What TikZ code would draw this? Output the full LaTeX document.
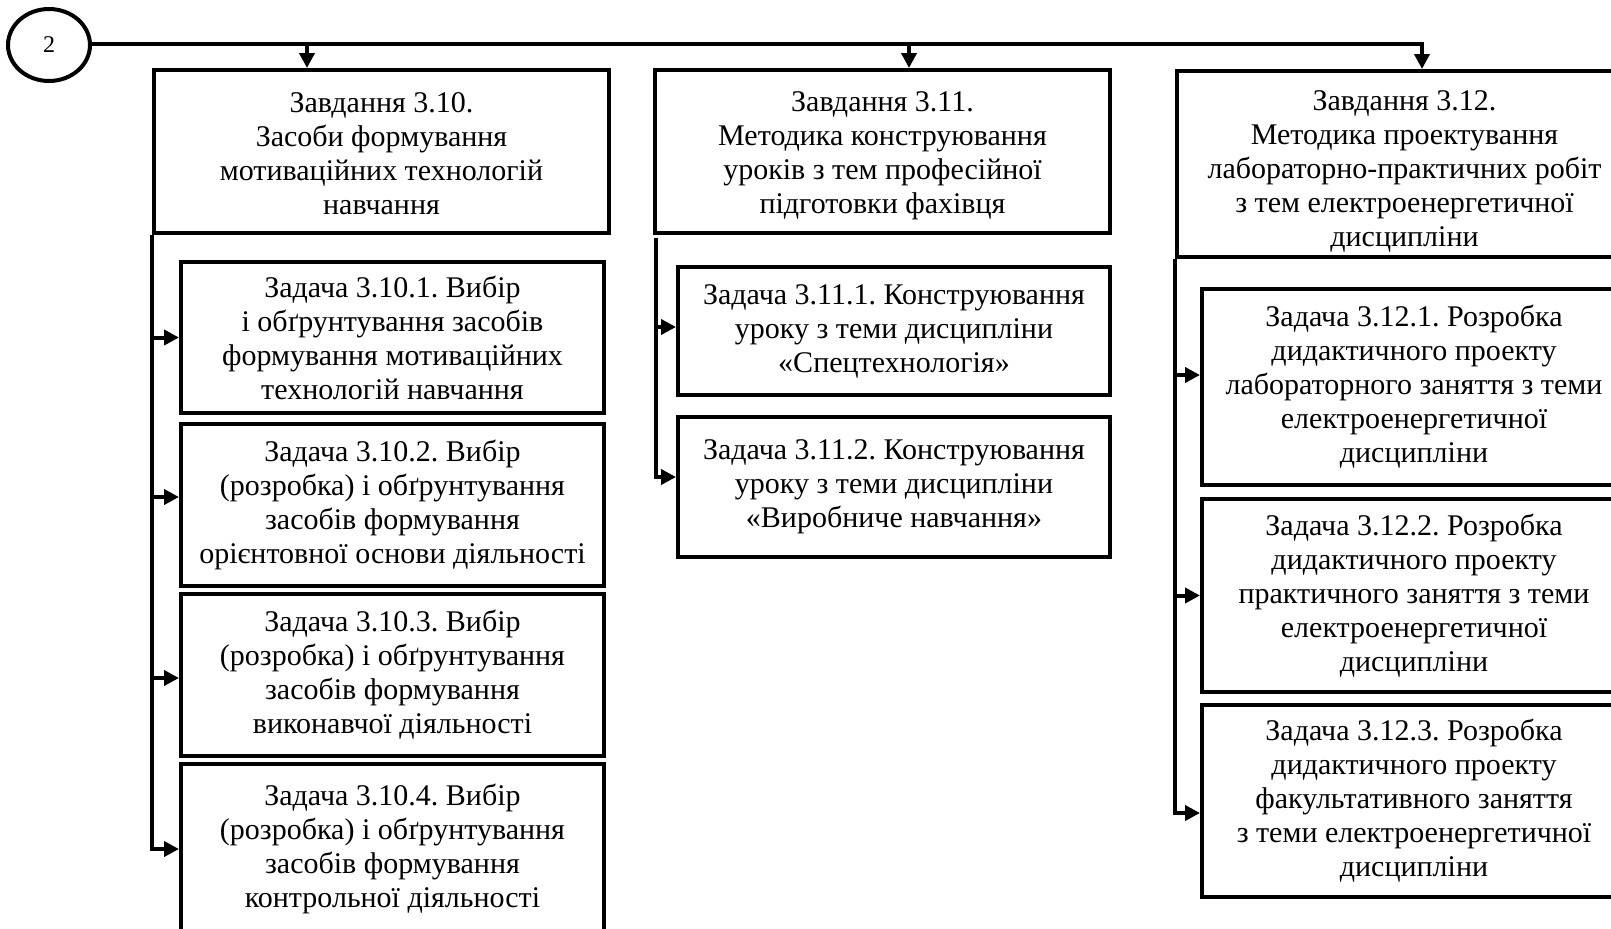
\documentclass[tikz,border=0pt]{standalone}
\usepackage{fontspec}
\setmainfont{Liberation Serif}
\usetikzlibrary{arrows.meta,shapes.geometric}
\frenchspacing
% extra room above the first line of a box, pushes its text block down
\newcommand\padtop[1]{\rule{0pt}{#1}}
\begin{document}
\begin{tikzpicture}[x=0.5pt,y=-0.5pt,
  line width=2pt,
  box/.style 2 args={draw,rectangle,inner sep=0pt,align=center,
    font=\fontsize{15}{17}\selectfont,
    minimum width=#1,minimum height=#2},
  tip/.style={-{Triangle[length=7.5pt,width=7.5pt]}},
  start/.style={draw,ellipse,inner sep=0pt,minimum width=41pt,minimum height=36pt,
    font=\fontsize{12}{14}\selectfont},
]
\useasboundingbox (0,0) rectangle (1611,928);
\clip (0,0) rectangle (1611,928);

% start marker
\node[start] (c2) at (49,45) {2};

% top-level tasks
\node[box={227.5pt}{81.5pt}] (t310) at (381.5,151.5)
  {\padtop{12.5pt}Завдання 3.10.\\ Засоби формування\\ мотиваційних технологій\\ навчання};
\node[box={227.5pt}{81.5pt}] (t311) at (882.5,151.5)
  {\padtop{14.5pt}Завдання 3.11.\\ Методика конструювання\\ уроків з тем професійної\\ підготовки фахівця};
\node[box={227.5pt}{93pt}] (t312) at (1404.5,164)
  {\padtop{17.5pt}Завдання 3.12.\\ Методика проектування\\ лабораторно-практичних робіт\\ з тем електроенергетичної\\ дисципліни};

% subtasks of 3.10
\node[box={211.5pt}{75.5pt}] (s3101) at (392.5,337.5)
  {Задача 3.10.1. Вибір\\ і обґрунтування засобів\\ формування мотиваційних\\ технологій навчання};
\node[box={211.5pt}{81pt}] (s3102) at (392.5,505)
  {Задача 3.10.2. Вибір\\ (розробка) і обґрунтування\\ засобів формування\\ орієнтовної основи діяльності};
\node[box={211.5pt}{81pt}] (s3103) at (392.5,675)
  {Задача 3.10.3. Вибір\\ (розробка) і обґрунтування\\ засобів формування\\ виконавчої діяльності};
\node[box={211.5pt}{85pt}] (s3104) at (392.5,849)
  {Задача 3.10.4. Вибір\\ (розробка) і обґрунтування\\ засобів формування\\ контрольної діяльності};

% subtasks of 3.11
\node[box={216pt}{64pt}] (s3111) at (894,331)
  {Задача 3.11.1. Конструювання\\ уроку з теми дисципліни\\ «Спецтехнологія»};
\node[box={216pt}{70pt}] (s3112) at (894,487)
  {Задача 3.11.2. Конструювання\\ уроку з теми дисципліни\\ «Виробниче навчання»};

% subtasks of 3.12
\node[box={212pt}{98pt}] (s3121) at (1414,387)
  {Задача 3.12.1. Розробка\\ дидактичного проекту\\ лабораторного заняття з теми\\ електроенергетичної\\ дисципліни};
\node[box={212pt}{96.5pt}] (s3122) at (1414,595.5)
  {Задача 3.12.2. Розробка\\ дидактичного проекту\\ практичного заняття з теми\\ електроенергетичної\\ дисципліни};
\node[box={212pt}{96pt}] (s3123) at (1414,801)
  {Задача 3.12.3. Розробка\\ дидактичного проекту\\ факультативного заняття\\ з теми електроенергетичної\\ дисципліни};

% distribution bus
\coordinate (bus) at (1422,44);
\coordinate (b1) at (307,44);
\coordinate (b2) at (909,44);
\draw[tip] (c2.east |- bus) -- (bus) -- (bus |- t312.north);
\draw[tip] (b1) -- (b1 |- t310.north);
\draw[tip] (b2) -- (b2 |- t311.north);

% column 3.10
\draw[tip] (t310.south west) |- (s3104.west);
\draw[tip] (t310.south west |- s3101.west) -- (s3101.west);
\draw[tip] ([yshift=4pt]s3102.west -| t310.south west) -- ([yshift=4pt]s3102.west);
\draw[tip] ([yshift=-1.5pt]s3103.west -| t310.south west) -- ([yshift=-1.5pt]s3103.west);

% column 3.11
\coordinate (k2) at (656,238);
\draw[tip] (k2) |- ([yshift=5pt]s3112.west);
\draw[tip] ([yshift=2pt]s3111.west -| k2) -- ([yshift=2pt]s3111.west);

% column 3.12
\draw[tip] (t312.south west) |- ([yshift=-6pt]s3123.west);
\draw[tip] ([yshift=6pt]s3121.west -| t312.south west) -- ([yshift=6pt]s3121.west);
\draw[tip] (s3122.west -| t312.south west) -- (s3122.west);
\end{tikzpicture}
\end{document}
